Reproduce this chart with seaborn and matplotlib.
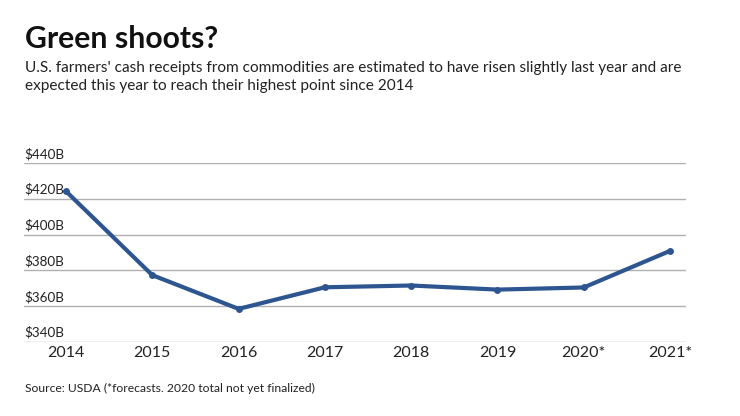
import matplotlib
matplotlib.use("Agg")
import matplotlib.pyplot as plt
import matplotlib.transforms as mtransforms
import seaborn as sns
import pandas as pd

# data (billions of dollars)
years = ["2014", "2015", "2016", "2017", "2018", "2019", "2020*", "2021*"]
receipts = [424.3, 377.3, 358.4, 370.5, 371.5, 369.2, 370.4, 390.9]
y_ticks = [340, 360, 380, 400, 420, 440]

title = "Green shoots?"
subtitle_lines = [
    "U.S. farmers' cash receipts from commodities are estimated to have risen slightly last year and are",
    "expected this year to reach their highest point since 2014",
]
source = "Source: USDA (*forecasts. 2020 total not yet finalized)"

line_color = "#2d5590"
grid_color = "#b0b0b0"
text_color = "#222222"

sns.set_theme(style="white")
plt.rcParams['font.family'] = ['Lato', 'DejaVu Sans']

df = pd.DataFrame({"pos": range(len(years)), "value": receipts})

fig = plt.figure(figsize=(7.4, 4.16), dpi=100)
ax = fig.add_axes([24 / 740, 1 - 341.7 / 416, (686 - 24) / 740, (341.7 - 163.3) / 416])

sns.lineplot(data=df, x="pos", y="value", ax=ax, color=line_color, linewidth=3.0,
             marker="o", markersize=5, markeredgewidth=0, markerfacecolor=line_color)

ax.set_xlim(-0.487, len(years) - 1 + 0.185)
ax.set_ylim(y_ticks[0], y_ticks[-1])
ax.set_xticks(range(len(years)))
ax.set_xticklabels(years, fontsize=11.5, color=text_color)
ax.set_yticks(y_ticks)
ax.set_yticklabels([])
ax.tick_params(axis="both", length=0)
ax.tick_params(axis="x", pad=3)
ax.set_xlabel("")
ax.set_ylabel("")

for s in ax.spines.values():
    s.set_visible(False)
for v in y_ticks:
    ax.axhline(v, color=grid_color, linewidth=1.0, zorder=0)

# y labels sit on top of the gridlines, left aligned
trans = mtransforms.blended_transform_factory(ax.transAxes, ax.transData)
offset = mtransforms.ScaledTranslation(0, 3 / 100, fig.dpi_scale_trans)
for v in y_ticks:
    ax.text(0, v, f"${v}B", transform=trans + offset, ha="left", va="bottom",
            fontsize=9.7, color=text_color)

fig.text(25 / 740, 1 - 47.5 / 416, title, fontsize=21.7, fontweight="bold",
         color="#111111", ha="left", va="baseline")
for i, line in enumerate(subtitle_lines):
    fig.text(25 / 740, 1 - (72.3 + 17.5 * i) / 416, line, fontsize=11.05,
             color=text_color, ha="left", va="baseline")
fig.text(25 / 740, 1 - 392 / 416, source, fontsize=8.75, color=text_color,
         ha="left", va="baseline")

fig.savefig("out.png", dpi=100)
